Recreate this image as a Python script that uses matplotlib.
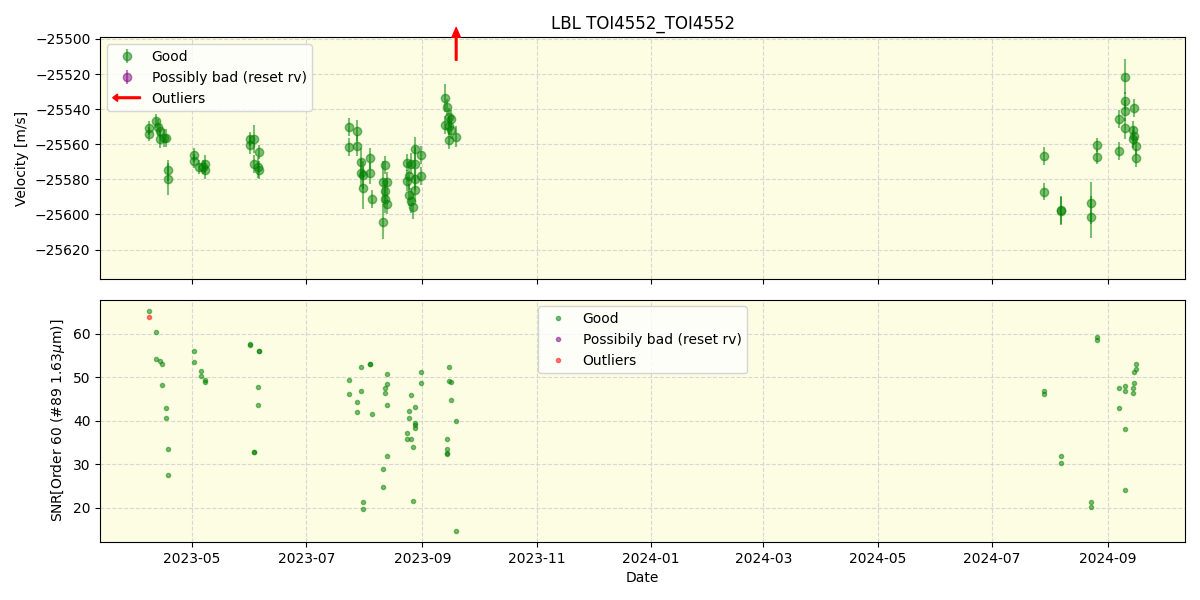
import matplotlib
matplotlib.use('Agg')
import matplotlib.pyplot as plt
import matplotlib.dates as mdates
import matplotlib.patches as mpatches
from matplotlib.legend_handler import HandlerPatch
import pandas as pd

# --- RV data ---
rv_dates = ['2023-04-08', '2023-04-08', '2023-04-12', '2023-04-13', '2023-04-14', '2023-04-14',
            '2023-04-16', '2023-04-17', '2023-04-18', '2023-04-18',
            '2023-05-02', '2023-05-02', '2023-05-05', '2023-05-07', '2023-05-08', '2023-05-08',
            '2023-06-01', '2023-06-01', '2023-06-03', '2023-06-06', '2023-06-03', '2023-06-05', '2023-06-06',
            '2023-07-24', '2023-07-24', '2023-07-28', '2023-07-28', '2023-07-30', '2023-07-30',
            '2023-07-31', '2023-07-31', '2023-08-04', '2023-08-04', '2023-08-05', '2023-08-11',
            '2023-08-11', '2023-08-12', '2023-08-13', '2023-08-12', '2023-08-12', '2023-08-13',
            '2023-08-24', '2023-08-24', '2023-08-25', '2023-08-26', '2023-08-27', '2023-08-28',
            '2023-08-28', '2023-08-28', '2023-08-25', '2023-08-28', '2023-08-31', '2023-08-31', '2023-08-26',
            '2023-09-13', '2023-09-14', '2023-09-13', '2023-09-15', '2023-09-16', '2023-09-15',
            '2023-09-16', '2023-09-15', '2023-09-19',
            '2024-07-29', '2024-07-29', '2024-08-07', '2024-08-07', '2024-08-23', '2024-08-23',
            '2024-08-26', '2024-08-26', '2024-09-07', '2024-09-07', '2024-09-10', '2024-09-10',
            '2024-09-10', '2024-09-10', '2024-09-15', '2024-09-14', '2024-09-15', '2024-09-14',
            '2024-09-16', '2024-09-16']
rv_vals = [-25550.8, -25554.2, -25547.0, -25550.4, -25552.3, -25557.0,
           -25556.5, -25556.5, -25574.7, -25579.8,
           -25566.0, -25569.4, -25573.2, -25573.0, -25571.3, -25574.7,
           -25557.0, -25560.3, -25557.0, -25564.3, -25571.3, -25573.2, -25574.7,
           -25550.0, -25561.4, -25552.3, -25560.9, -25570.0, -25576.6,
           -25577.4, -25585.0, -25567.9, -25576.6, -25591.2, -25604.1,
           -25581.3, -25571.7, -25581.7, -25586.5, -25591.2, -25594.0,
           -25570.4, -25580.8, -25588.9, -25592.1, -25595.6, -25571.3,
           -25562.8, -25579.8, -25578.0, -25586.0, -25566.0, -25578.0, -25571.0,
           -25533.4, -25539.0, -25549.0, -25544.4, -25545.7, -25549.5,
           -25552.0, -25557.6, -25555.7,
           -25566.7, -25587.0, -25597.5, -25598.2, -25593.5, -25601.3,
           -25560.5, -25567.5, -25545.7, -25563.7, -25521.6, -25535.3,
           -25541.0, -25551.0, -25539.4, -25552.0, -25555.2, -25557.0,
           -25560.9, -25567.9]
rv_errs = [4, 4, 4, 5, 4, 5, 5, 5, 6, 9,
           4, 4, 4, 4, 5, 5,
           4, 5, 8, 4, 5, 6, 5,
           5, 5, 6, 6, 8, 8, 8, 12, 6, 6, 5, 10, 12, 5, 6, 6, 8, 6,
           5, 6, 6, 7, 7, 10, 7, 6, 8, 7, 5, 5, 6,
           8, 5, 5, 5, 5, 5, 5, 5, 6,
           5, 5, 8, 8, 12, 12, 4, 4, 5, 5, 10, 5, 6, 6, 5, 5, 5, 5, 5, 5]

# outlier above the plotted range (shown as arrow)
outlier_rv_dates = ['2023-09-19']

# --- SNR data ---
snr_dates = ['2023-04-08', '2023-04-12', '2023-04-12', '2023-04-14', '2023-04-15', '2023-04-15',
             '2023-04-17', '2023-04-17', '2023-04-18', '2023-04-18',
             '2023-05-02', '2023-05-02', '2023-05-06', '2023-05-06', '2023-05-08', '2023-05-08',
             '2023-06-01', '2023-06-01', '2023-06-06', '2023-06-06', '2023-06-05', '2023-06-05',
             '2023-06-03', '2023-06-03',
             '2023-07-24', '2023-07-24', '2023-07-28', '2023-07-28', '2023-07-30', '2023-07-30',
             '2023-07-31', '2023-07-31', '2023-08-04', '2023-08-04', '2023-08-05', '2023-08-11',
             '2023-08-11', '2023-08-12', '2023-08-12', '2023-08-13', '2023-08-13', '2023-08-13',
             '2023-08-13', '2023-08-24', '2023-08-24', '2023-08-25', '2023-08-25', '2023-08-26',
             '2023-08-26', '2023-08-27', '2023-08-27', '2023-08-28', '2023-08-28', '2023-08-28',
             '2023-08-28', '2023-08-31', '2023-08-31',
             '2023-09-15', '2023-09-15', '2023-09-16', '2023-09-16', '2023-09-19', '2023-09-14',
             '2023-09-14', '2023-09-14', '2023-09-14', '2023-09-19',
             '2024-07-29', '2024-07-29', '2024-08-07', '2024-08-07', '2024-08-23', '2024-08-23',
             '2024-08-26', '2024-08-26', '2024-09-07', '2024-09-07', '2024-09-10', '2024-09-10',
             '2024-09-10', '2024-09-10', '2024-09-14', '2024-09-14', '2024-09-15', '2024-09-15',
             '2024-09-16', '2024-09-16']
snr_vals = [65.2, 60.4, 54.2, 53.7, 52.9, 48.1, 43.0, 40.5, 33.6, 27.5,
            56.0, 53.5, 51.5, 50.3, 49.4, 48.9,
            57.6, 57.3, 56.0, 56.1, 47.8, 43.5, 32.9, 32.7,
            49.4, 46.2, 44.4, 42.1, 52.4, 46.7,
            21.3, 19.7, 53.0, 52.9, 41.6, 28.8,
            24.7, 47.6, 46.4, 32.0, 43.5, 50.6,
            48.5, 37.1, 35.9, 42.3, 40.7, 45.8,
            35.9, 33.9, 21.5, 43.2, 39.4, 39.1,
            38.4, 51.2, 48.7,
            52.4, 49.0, 48.9, 44.8, 40.0, 35.9,
            33.4, 32.5, 32.3, 14.7,
            46.9, 46.1, 31.8, 30.4, 21.4, 20.2,
            59.2, 58.6, 47.6, 42.8, 47.9, 46.9,
            38.0, 24.0, 47.6, 46.4, 48.7, 51.2,
            53.1, 51.9]

outlier_snr_dates = ['2023-04-08']
outlier_snr_vals = [63.8]

bg = '#fdfde3'

fig, (ax1, ax2) = plt.subplots(2, 1, figsize=(12, 6), sharex=True)
fig.subplots_adjust(left=0.0835, right=0.9875, top=0.938, bottom=0.097, hspace=0.083)

# top panel: velocities
ax1.errorbar(pd.to_datetime(rv_dates), rv_vals, yerr=rv_errs, fmt='o', color='green',
             alpha=0.5, ms=6, label='Good')
ax1.errorbar([], [], yerr=[], fmt='o', color='purple', alpha=0.5, ms=6,
             label='Possibly bad (reset rv)')
for d in pd.to_datetime(outlier_rv_dates):
    ax1.annotate('', xy=(d, 1.04), xytext=(d, 0.905),
                 xycoords=('data', 'axes fraction'), textcoords=('data', 'axes fraction'),
                 arrowprops=dict(color='red', width=1.2, headwidth=6, headlength=7),
                 annotation_clip=False)


def make_arrow(legend, orig_handle, xdescent, ydescent, width, height, fontsize):
    return mpatches.FancyArrow(width, 0.5 * height, -width, 0, width=1.2,
                               head_width=0.75 * height, head_length=0.5 * height,
                               length_includes_head=True, color='red')


arrow_handle = mpatches.FancyArrow(0, 0, 1, 0, color='red')
h, l = ax1.get_legend_handles_labels()
ax1.legend(h + [arrow_handle], l + ['Outliers'], loc='upper left',
           handler_map={mpatches.FancyArrow: HandlerPatch(patch_func=make_arrow)})

ax1.set_ylim(-25637, -25499)
ax1.set_yticks(range(-25620, -25499, 20))
ax1.set_ylabel('Velocity [m/s]')
ax1.set_title('LBL TOI4552_TOI4552')
ax1.set_facecolor(bg)
ax1.grid(True, linestyle='--', color='lightgray', alpha=0.9)

# bottom panel: SNR
ax2.plot(pd.to_datetime(snr_dates), snr_vals, '.', color='green', alpha=0.5, label='Good')
ax2.plot([], [], '.', color='purple', alpha=0.5, label='Possibily bad (reset rv)')
ax2.plot(pd.to_datetime(outlier_snr_dates), outlier_snr_vals, '.', color='red', alpha=0.5,
         label='Outliers')
ax2.legend(loc='upper center')
ax2.set_ylim(12.2, 67.8)
ax2.set_ylabel('SNR[Order 60 (#89 1.63$\\mu$m)]')
ax2.set_xlabel('Date')
ax2.set_facecolor(bg)
ax2.grid(True, linestyle='--', color='lightgray', alpha=0.9)

ax2.set_xlim(pd.Timestamp('2023-03-13'), pd.Timestamp('2024-10-12'))
ax2.xaxis.set_major_locator(mdates.MonthLocator(bymonth=[1, 3, 5, 7, 9, 11]))
ax2.xaxis.set_major_formatter(mdates.DateFormatter('%Y-%m'))

plt.savefig('out.png', dpi=100)
